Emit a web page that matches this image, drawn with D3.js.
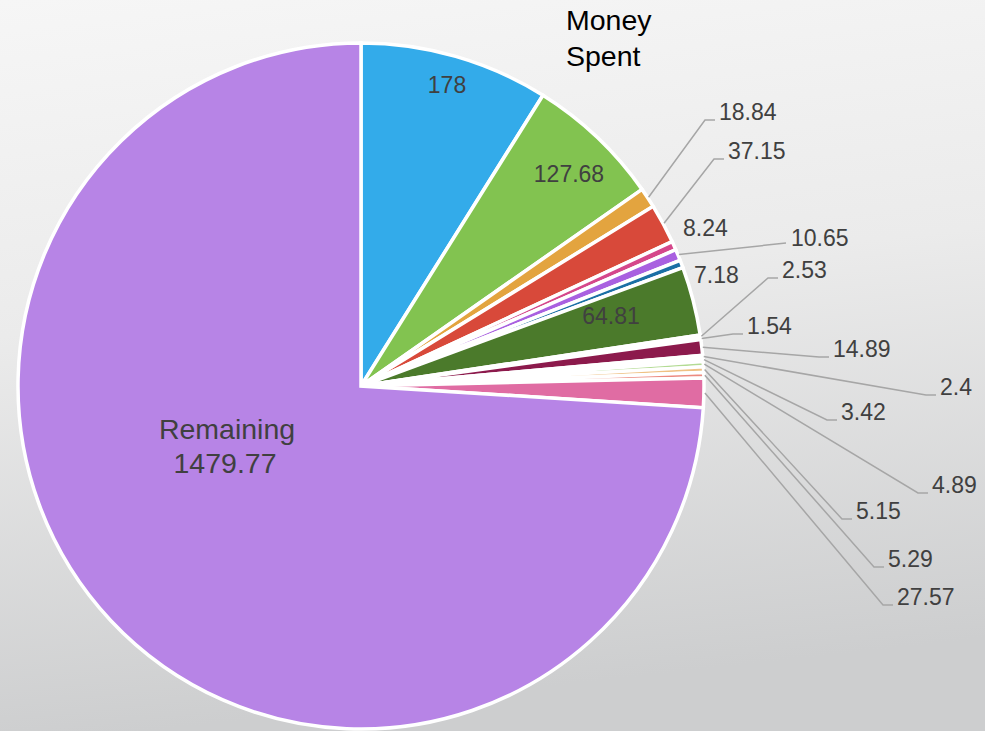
<!DOCTYPE html>
<html>
<head>
<meta charset="utf-8">
<script src="https://cdn.jsdelivr.net/npm/d3@7"></script>
<style>
  html, body { margin: 0; padding: 0; background: #eee; }
  svg { display: block; font-family: "Liberation Sans", Arial, sans-serif; }
</style>
</head>
<body>
<svg id="chart" width="985" height="731"></svg>
<script>
// Budget breakdown: spent items plus what is left
const values = [178, 127.68, 18.84, 37.15, 8.24, 10.65, 7.18, 64.81, 2.53, 1.54,
                14.89, 2.4, 3.42, 4.89, 5.15, 5.29, 27.57, 1479.77];
const sliceNames = ["", "", "", "", "", "", "", "", "", "",
                    "", "", "", "", "", "", "", "Remaining"];
const titleLines = ["Money", "Spent"];

// Six base hues, then their darker shades, then their lighter shades
const palette = [
  "#33abea", "#82c350", "#e3a43f", "#d8493a", "#d5478b", "#a960e0",
  "#1b70a5", "#4b7a2b", "#a87827", "#9c2e25", "#8c1a4c", "#6e3a9e",
  "#80caf0", "#b3db94", "#efc183", "#ec8a80", "#e06ca3", "#b784e6"
];

// Label placement: "in" labels are centred, "out" labels start at x and get a leader
const labelLayout = [
  { mode: "in",  x: 447, y: 93 },
  { mode: "in",  x: 569, y: 182 },
  { mode: "out", x: 719, y: 120, elbow: true },
  { mode: "out", x: 728, y: 159, elbow: true },
  { mode: "free", x: 683, y: 236 },
  { mode: "out", x: 791, y: 246, elbow: false, ly: 243 },
  { mode: "free", x: 694, y: 283 },
  { mode: "in",  x: 611, y: 324 },
  { mode: "out", x: 782, y: 278, elbow: true },
  { mode: "out", x: 747, y: 334, elbow: true },
  { mode: "out", x: 833, y: 357, elbow: true },
  { mode: "out", x: 940, y: 395, elbow: true },
  { mode: "out", x: 841, y: 420, elbow: true },
  { mode: "out", x: 932, y: 493, elbow: true },
  { mode: "out", x: 856, y: 519, elbow: true },
  { mode: "out", x: 888, y: 567, elbow: true },
  { mode: "out", x: 897, y: 605, elbow: true },
  { mode: "big", x: 227, y: 439 }
];

const W = 985, H = 731;
const cx = 361, cy = 386, R = 343;

const svg = d3.select("#chart");

// Soft grey backdrop
const defs = svg.append("defs");
const bg = defs.append("linearGradient").attr("id", "bg")
  .attr("x1", 0).attr("y1", 0).attr("x2", 0.15).attr("y2", 1);
bg.append("stop").attr("offset", 0).attr("stop-color", "#f6f6f6");
bg.append("stop").attr("offset", 0.45).attr("stop-color", "#ebebeb");
bg.append("stop").attr("offset", 1).attr("stop-color", "#cdcecf");
svg.append("rect").attr("width", W).attr("height", H).attr("fill", "url(#bg)");

const pie = d3.pie().sort(null).value(d => d).startAngle(0).endAngle(2 * Math.PI);
const arcs = pie(values);
const arc = d3.arc().innerRadius(0).outerRadius(R);
const edge = d3.arc().innerRadius(R + 1).outerRadius(R + 1);

const g = svg.append("g").attr("transform", `translate(${cx},${cy})`);

g.selectAll("path.slice")
  .data(arcs)
  .join("path")
  .attr("class", "slice")
  .attr("d", arc)
  .attr("fill", (d, i) => palette[i])
  .attr("stroke", "#ffffff")
  .attr("stroke-width", 3.5)
  .attr("stroke-linejoin", "miter");

// Leader lines
const leaders = svg.append("g")
  .attr("fill", "none")
  .attr("stroke", "#a6a6a6")
  .attr("stroke-width", 1.5);

arcs.forEach((d, i) => {
  const L = labelLayout[i];
  if (L.mode !== "out") return;
  const [sx, sy] = edge.centroid(d);
  const start = [cx + sx, cy + sy];
  const ly = L.ly !== undefined ? L.ly : L.y;
  const pts = L.elbow
    ? [start, [L.x - 14, ly], [L.x - 4, ly]]
    : [start, [L.x - 5, ly]];
  leaders.append("path").attr("d", d3.line()(pts));
});

// Value labels
const labels = svg.append("g").attr("fill", "#404040");
arcs.forEach((d, i) => {
  const L = labelLayout[i];
  const txt = String(values[i]);
  if (L.mode === "big") {
    const t = labels.append("text")
      .attr("text-anchor", "middle")
      .attr("font-size", 28.5);
    t.append("tspan").attr("x", L.x).attr("y", L.y).text(sliceNames[i]);
    t.append("tspan").attr("x", L.x - 2).attr("y", L.y + 34).text(txt);
  } else {
    labels.append("text")
      .attr("x", L.x)
      .attr("y", L.y)
      .attr("text-anchor", L.mode === "in" ? "middle" : "start")
      .attr("font-size", 23)
      .text(txt);
  }
});

// Title
const title = svg.append("text")
  .attr("fill", "#000000")
  .attr("font-size", 28.5);
titleLines.forEach((s, k) => {
  title.append("tspan").attr("x", 566).attr("y", 30 + k * 36).text(s);
});
</script>
</body>
</html>
